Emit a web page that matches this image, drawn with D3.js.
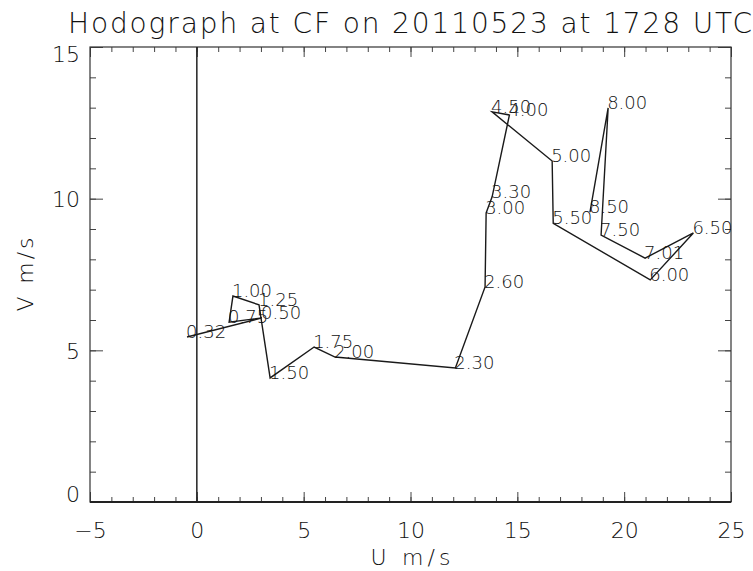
<!DOCTYPE html>
<html>
<head>
<meta charset="utf-8">
<script src="https://cdn.jsdelivr.net/npm/d3@7"></script>
<style>
  html, body { margin: 0; padding: 0; background: #fff; }
  svg { display: block; }
  text { font-family: 'DejaVu Sans', sans-serif; font-weight: 200; fill: #111; }
</style>
</head>
<body>
<svg id="chart" width="753" height="571"></svg>
<script>
// hodograph at CF, 20110523 1728 UTC - height labels in km, winds in m/s
const heights = ['0.32', '0.50', '0.75', '1.00', '1.25', '1.50', '1.75', '2.00', '2.30', '2.60', '3.00',
  '3.30', '4.00', '4.50', '5.00', '5.50', '6.00', '6.50', '7.01', '7.50', '8.00', '8.50']
const uWind = [-0.46, 3.05, 1.51, 1.69, 2.91, 3.43, 5.49, 6.47, 12.10, 13.49, 13.54,
  13.82, 14.63, 13.82, 16.63, 16.68, 21.22, 23.24, 20.98, 18.92, 19.25, 18.40]
const vWind = [5.44, 6.07, 5.93, 6.79, 6.50, 4.09, 5.11, 4.78, 4.42, 7.09, 9.53,
  10.06, 12.76, 12.86, 11.24, 9.19, 7.32, 8.87, 8.04, 8.80, 12.99, 9.56]

const xTicks = [-5, 0, 5, 10, 15, 20, 25]
const yTicks = [0, 5, 10, 15]
const xMinor = d3.range(-5, 25.01, 1)
const yMinor = d3.range(0, 15.01, 1)

const title = 'Hodograph at CF on 20110523 at 1728 UTC'
const xTitle = 'U m/s'
const yTitle = 'V m/s'

let margin = {left: 90, right: 22, top: 47, bottom: 69}
let width = 753 - margin.left - margin.right
let height = 571 - margin.top - margin.bottom

let svg = d3.select('#chart')
let g = svg.append('g').attr('transform', `translate(${margin.left},${margin.top})`)

let x = d3.scaleLinear().domain([-5, 25]).range([0, width])
let y = d3.scaleLinear().domain([0, 15]).range([height, 0])

// minor ticks, all four sides, pointing inward (IDL style)
g.append('g').attr('transform', `translate(0,${height})`)
  .call(d3.axisBottom(x).tickValues(xMinor).tickSize(-5).tickFormat(''))
g.append('g')
  .call(d3.axisTop(x).tickValues(xMinor).tickSize(-5).tickFormat(''))
g.append('g')
  .call(d3.axisLeft(y).tickValues(yMinor).tickSize(-6).tickFormat(''))
g.append('g').attr('transform', `translate(${width},0)`)
  .call(d3.axisRight(y).tickValues(yMinor).tickSize(-6).tickFormat(''))

// major ticks
g.append('g').attr('transform', `translate(0,${height})`)
  .call(d3.axisBottom(x).tickValues(xTicks).tickSize(-10).tickPadding(20).tickFormat(d3.format('d')))
g.append('g')
  .call(d3.axisTop(x).tickValues(xTicks).tickSize(-10).tickFormat(''))
let yAxis = g.append('g')
  .call(d3.axisLeft(y).tickValues(yTicks).tickSize(-13).tickPadding(10).tickFormat(d3.format('d')))
g.append('g').attr('transform', `translate(${width},0)`)
  .call(d3.axisRight(y).tickValues(yTicks).tickSize(-13).tickFormat(''))

g.selectAll('.domain').remove()
g.selectAll('.tick line').attr('stroke', '#444').attr('stroke-width', 1)
g.selectAll('.tick text').attr('font-size', 22).attr('fill', '#111')
  .style('font-family', "'DejaVu Sans', sans-serif")

// end labels sit inside the frame, not centred on the tick
yAxis.selectAll('.tick text')
  .attr('dy', d => d === 15 ? '0.68em' : d === 0 ? '-0.02em' : '0.36em')

// frame
g.append('rect')
  .attr('width', width).attr('height', height)
  .attr('fill', 'none').attr('stroke', '#333').attr('stroke-width', 1.2)
g.append('line')
  .attr('x1', 0).attr('x2', width).attr('y1', height).attr('y2', height)
  .attr('stroke', '#222').attr('stroke-width', 2)

// u = 0 line
g.append('line')
  .attr('x1', x(0)).attr('x2', x(0)).attr('y1', y(0)).attr('y2', y(15))
  .attr('stroke', '#222').attr('stroke-width', 1.5)

// hodograph trace
let pts = heights.map((h, i) => ({h: h, u: uWind[i], v: vWind[i]}))
let line = d3.line().x(d => x(d.u)).y(d => y(d.v))
g.append('path').datum(pts)
  .attr('d', line)
  .attr('fill', 'none').attr('stroke', '#1a1a1a').attr('stroke-width', 1.4)
  .attr('stroke-linejoin', 'miter')

g.selectAll('.hlabel').data(pts).enter().append('text')
  .attr('class', 'hlabel')
  .attr('x', d => x(d.u) - 1)
  .attr('y', d => y(d.v) + 1)
  .attr('font-size', 18)
  .text(d => d.h)

// titles
svg.append('text')
  .attr('x', 68).attr('y', 33)
  .attr('font-size', 28)
  .attr('textLength', 684).attr('lengthAdjust', 'spacing')
  .text(title)

svg.append('text')
  .attr('x', margin.left + width / 2).attr('y', 565)
  .attr('text-anchor', 'middle')
  .attr('font-size', 22)
  .attr('textLength', 80).attr('lengthAdjust', 'spacing')
  .text(xTitle)

svg.append('text')
  .attr('transform', `translate(33,${margin.top + height / 2}) rotate(-90)`)
  .attr('text-anchor', 'middle')
  .attr('font-size', 22)
  .attr('textLength', 74).attr('lengthAdjust', 'spacing')
  .text(yTitle)
</script>
</body>
</html>
